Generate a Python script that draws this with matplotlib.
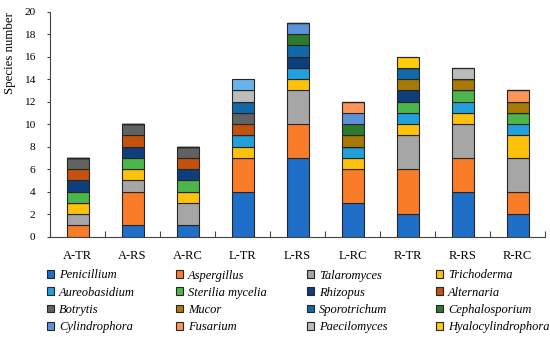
import matplotlib
matplotlib.use("Agg")
import matplotlib.pyplot as plt
import numpy as np

categories = ['A-TR', 'A-RS', 'A-RC', 'L-TR', 'L-RS', 'L-RC', 'R-TR', 'R-RS', 'R-RC']

Penicillium        = [0, 1, 1, 4, 7, 3, 2, 4, 2]
Aspergillus        = [1, 3, 0, 3, 3, 3, 4, 3, 2]
Talaromyces        = [1, 1, 2, 0, 3, 0, 3, 3, 3]
Trichoderma        = [1, 1, 1, 1, 1, 1, 1, 1, 2]
Aureobasidium      = [0, 0, 0, 1, 1, 1, 1, 1, 1]
Sterilia_mycelia   = [1, 1, 1, 0, 0, 0, 1, 1, 1]
Rhizopus           = [1, 1, 1, 0, 1, 0, 1, 0, 0]
Alternaria         = [1, 1, 1, 1, 0, 0, 0, 0, 0]
Botrytis           = [1, 1, 1, 1, 0, 0, 0, 0, 0]
Mucor              = [0, 0, 0, 0, 0, 1, 1, 1, 1]
Sporotrichum       = [0, 0, 0, 1, 1, 0, 1, 0, 0]
Cephalosporium     = [0, 0, 0, 0, 1, 1, 0, 0, 0]
Cylindrophora      = [0, 0, 0, 0, 1, 1, 0, 0, 0]
Fusarium           = [0, 0, 0, 0, 0, 1, 0, 0, 1]
Paecilomyces       = [0, 0, 0, 1, 0, 0, 0, 1, 0]
Hyalocylindrophora = [0, 0, 0, 0, 0, 0, 1, 0, 0]
Unlisted           = [0, 0, 0, 1, 0, 0, 0, 0, 0]

series_names = ['Penicillium', 'Aspergillus', 'Talaromyces', 'Trichoderma',
                'Aureobasidium', 'Sterilia mycelia', 'Rhizopus', 'Alternaria',
                'Botrytis', 'Mucor', 'Sporotrichum', 'Cephalosporium',
                'Cylindrophora', 'Fusarium', 'Paecilomyces', 'Hyalocylindrophora', None]
series_values = [Penicillium, Aspergillus, Talaromyces, Trichoderma,
                 Aureobasidium, Sterilia_mycelia, Rhizopus, Alternaria,
                 Botrytis, Mucor, Sporotrichum, Cephalosporium,
                 Cylindrophora, Fusarium, Paecilomyces, Hyalocylindrophora, Unlisted]
colors = ['#1f6fc8', '#f97c28', '#a6a6a6', '#fec20c',
          '#21a0dc', '#4db64a', '#0f3e7c', '#c2520e',
          '#626262', '#a67a04', '#1169a8', '#2b7a2d',
          '#5c92da', '#fb955a', '#bcbcbc', '#ffcc0a', '#66b4ea']

plt.rcParams['font.family'] = ['Liberation Serif', 'DejaVu Serif']

W, H = 550, 337
fig = plt.figure(figsize=(W / 100, H / 100), dpi=100)
ax = fig.add_axes([50 / W, 1 - 236.7 / H, 495 / W, 225 / H])

x = np.arange(len(categories))
bottom = np.zeros(len(categories))
handles = []
for name, vals, c in zip(series_names, series_values, colors):
    v = np.array(vals, dtype=float)
    b = ax.bar(x, v, 0.4, bottom=bottom, color=c, edgecolor='#262626', linewidth=0.8,
               label=name if name else '_nolegend_')
    if name:
        handles.append((b, name))
    bottom += v

ax.set_xlim(-0.5, 8.5)
ax.set_ylim(0, 20)
ax.set_yticks(range(0, 21, 2))
ax.set_xticks(x)
ax.set_xticklabels(categories)
ax.set_xticks(np.arange(-0.5, 9, 1), minor=True)
ax.tick_params(axis='x', which='major', length=0, labelsize=9, pad=9.5)
ax.tick_params(axis='x', which='minor', direction='in', length=4, width=0.8, color='#444444')
ax.tick_params(axis='y', labelsize=8.2, length=2.5, width=0.8, color='#444444', pad=8)
for s in ['top', 'right']:
    ax.spines[s].set_visible(False)
for s in ['left', 'bottom']:
    ax.spines[s].set_color('#444444')
    ax.spines[s].set_linewidth(0.8)
ax.set_ylabel('Species number', fontsize=9.3, labelpad=5.5, loc='top')

ncol = 4
col_x = [47, 176, 307, 436]
top_y = 1 - 269.5 / H
for c in range(ncol):
    items = [handles[r * ncol + c] for r in range(4)]
    fig.legend([h for h, _ in items], [n for _, n in items], loc='upper left',
               bbox_to_anchor=(col_x[c] / W, top_y), ncol=1,
               frameon=False, handlelength=0.58, handleheight=0.58, handletextpad=0.38,
               labelspacing=0.42, borderpad=0, borderaxespad=0,
               prop={'family': ['Liberation Serif'], 'style': 'italic', 'size': 9})

fig.savefig('out.png', dpi=100)
